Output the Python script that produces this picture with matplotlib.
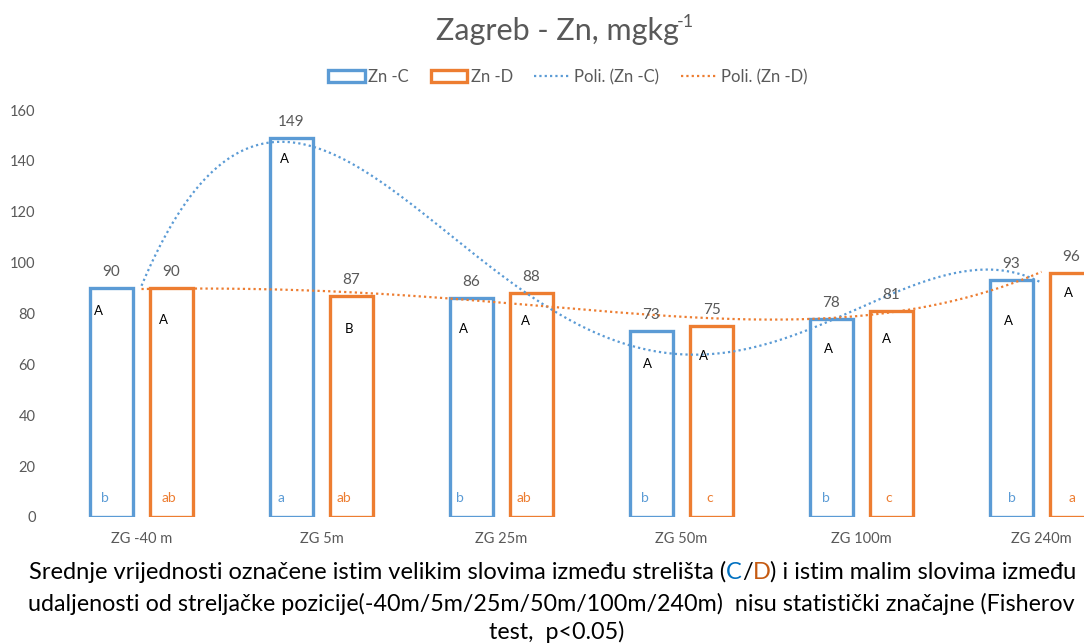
import numpy as np
import matplotlib
matplotlib.use("Agg")
import matplotlib.pyplot as plt
from matplotlib.patches import Patch
from matplotlib.lines import Line2D

# ---------------- data ----------------
categories = ["ZG -40 m", "ZG 5m", "ZG 25m", "ZG 50m", "ZG 100m", "ZG 240m"]
zn_c = [90, 149, 86, 73, 78, 93]
zn_d = [90, 87, 88, 75, 81, 96]
upper_c = ["A", "A", "A", "A", "A", "A"]
upper_d = ["A", "B", "A", "A", "A", "A"]
lower_c = ["b", "a", "b", "b", "b", "b"]
lower_d = ["ab", "ab", "ab", "c", "c", "a"]
y_ticks = [0, 20, 40, 60, 80, 100, 120, 140, 160]
series_names = ["Zn -C", "Zn -D", "Poli. (Zn -C)", "Poli. (Zn -D)"]
title_main = "Zagreb - Zn, mgkg"
title_sup = "-1"
caption_l1 = ["Srednje vrijednosti označene istim velikim slovima između strelišta (",
              "C", "/", "D", ") i istim malim slovima između"]
caption_l2 = "udaljenosti od streljačke pozicije(-40m/5m/25m/50m/100m/240m)  nisu statistički značajne (Fisherov"
caption_l3 = "test,  p<0.05)"

# ---------------- layout of hand-placed letter boxes ----------------
upper_y_c = [81, 140.7, 73.9, 60, 66, 77]
upper_y_d = [77.4, 73.9, 77, 63.3, 70, 88]
upper_dx_c = [-12.5, -7, -7.5, -4, -2.5, -2.5]
upper_dx_d = [-8, -2.5, -6.5, -8, -5, -3]
lower_dx_c = [-6.5, -10, -12, -7, -5.5, 0]
lower_dx_d = [-3, -7.5, -7.5, -2, -3, 0]
lower_y = 7.5

BLUE = "#5B9BD5"
ORANGE = "#ED7D31"
GREY = "#595959"
FONT = ["Lato", "DejaVu Sans"]
plt.rcParams["font.family"] = FONT

W, H = 1084, 644
fig = plt.figure(figsize=(W / 100, H / 100), dpi=100)
ax = fig.add_axes([51.5 / W, 127 / H, 1080 / W, 407 / H])

x = np.arange(len(categories))
off = 0.167
bw = 0.243
ax.bar(x - off, zn_c, width=bw, facecolor="none", edgecolor=BLUE, linewidth=2.4, zorder=2)
ax.bar(x + off, zn_d, width=bw, facecolor="none", edgecolor=ORANGE, linewidth=2.4, zorder=2)

# polynomial trendlines (order 4), as Excel
xs = np.linspace(0, len(categories) - 1, 400)
pc = np.polyfit(x, zn_c, 4)
pd_ = np.polyfit(x, zn_d, 4)
ax.plot(xs, np.polyval(pc, xs), color=BLUE, lw=1.6, ls=(0, (1, 1.4)), zorder=3)
ax.plot(xs, np.polyval(pd_, xs), color=ORANGE, lw=1.6, ls=(0, (1, 1.4)), zorder=3)

ax.set_xlim(-0.5, 5.5)
ax.set_ylim(0, 160)
ax.set_yticks(y_ticks)
ax.set_xticks(x)
ax.set_xticklabels(categories)
ax.tick_params(axis="y", length=0, pad=11.5, labelsize=10.5, labelcolor=GREY)
ax.tick_params(axis="x", length=0, pad=11, labelsize=10.5, labelcolor=GREY)
for s in ax.spines.values():
    s.set_visible(False)

# value labels
for xi, v in zip(x, zn_c):
    ax.annotate(str(v), (xi - off, v), xytext=(0, 6.5), textcoords="offset points",
                ha="center", va="bottom", fontsize=11, color=GREY)
for xi, v in zip(x, zn_d):
    ax.annotate(str(v), (xi + off, v), xytext=(0, 6.5), textcoords="offset points",
                ha="center", va="bottom", fontsize=11, color=GREY)

# significance letters
for i in range(len(categories)):
    ax.annotate(upper_c[i], (x[i] - off, upper_y_c[i]), xytext=(upper_dx_c[i] * 0.72, 0),
                textcoords="offset points", ha="center", va="center", fontsize=9.5, color="black")
    ax.annotate(upper_d[i], (x[i] + off, upper_y_d[i]), xytext=(upper_dx_d[i] * 0.72, 0),
                textcoords="offset points", ha="center", va="center", fontsize=9.5, color="black")
    ax.annotate(lower_c[i], (x[i] - off, lower_y), xytext=(lower_dx_c[i] * 0.72, 0),
                textcoords="offset points", ha="center", va="center", fontsize=10, color=BLUE)
    ax.annotate(lower_d[i], (x[i] + off, lower_y), xytext=(lower_dx_d[i] * 0.72, 0),
                textcoords="offset points", ha="center", va="center", fontsize=10, color=ORANGE)

renderer = fig.canvas.get_renderer()

def width_px(t):
    return t.get_window_extent(renderer).width

def str_width(s, fs):
    t = fig.text(0, 0, s, fontsize=fs)
    w = width_px(t)
    t.remove()
    return w

# title
t_main = fig.text(0, 1 - 40 / H, title_main, fontsize=22, color=GREY, ha="left", va="baseline")
t_sup = fig.text(0, 1 - 27 / H, title_sup, fontsize=13, color=GREY, ha="left", va="baseline")
wm = width_px(t_main)
tw = wm + width_px(t_sup) - 2
x0 = 565 - tw / 2
t_main.set_x(x0 / W)
t_sup.set_x((x0 + wm - 2) / W)

# legend
handles = [Patch(facecolor="white", edgecolor=BLUE, linewidth=2.4),
           Patch(facecolor="white", edgecolor=ORANGE, linewidth=2.4),
           Line2D([], [], color=BLUE, lw=1.6, ls=(0, (1, 1.4))),
           Line2D([], [], color=ORANGE, lw=1.6, ls=(0, (1, 1.4)))]
leg = fig.legend(handles, series_names, loc="center", bbox_to_anchor=(568 / W, 1 - 77 / H),
                 ncol=4, frameon=False, fontsize=12, handlelength=2.2, handleheight=0.75,
                 handletextpad=0.2, columnspacing=1.3, labelcolor=GREY)

# caption
fs = 16
t2 = fig.text(0.5, 1 - 611 / H, caption_l2, fontsize=fs, color="black", ha="center", va="baseline")
fs = fs * 1049 / width_px(t2)
t2.set_fontsize(fs)
t2.set_x(551 / W)
t3 = fig.text(557 / W, 1 - 639 / H, caption_l3, fontsize=fs, color="black", ha="center", va="baseline")

# first line: fitted to its span (kept inside the figure), with coloured C / D
full1 = "".join(caption_l1)
fs1 = fs * 1050 / str_width(full1, fs)
cols = ["black", "#0070C0", "black", "#C55A11", "black"]
prefix = ""
for s, c in zip(caption_l1, cols):
    px = 29 + (str_width(prefix, fs1) if prefix else 0)
    fig.text(px / W, 1 - 579 / H, s, fontsize=fs1, color=c, ha="left", va="baseline")
    prefix += s

fig.savefig("out.png", dpi=100)
